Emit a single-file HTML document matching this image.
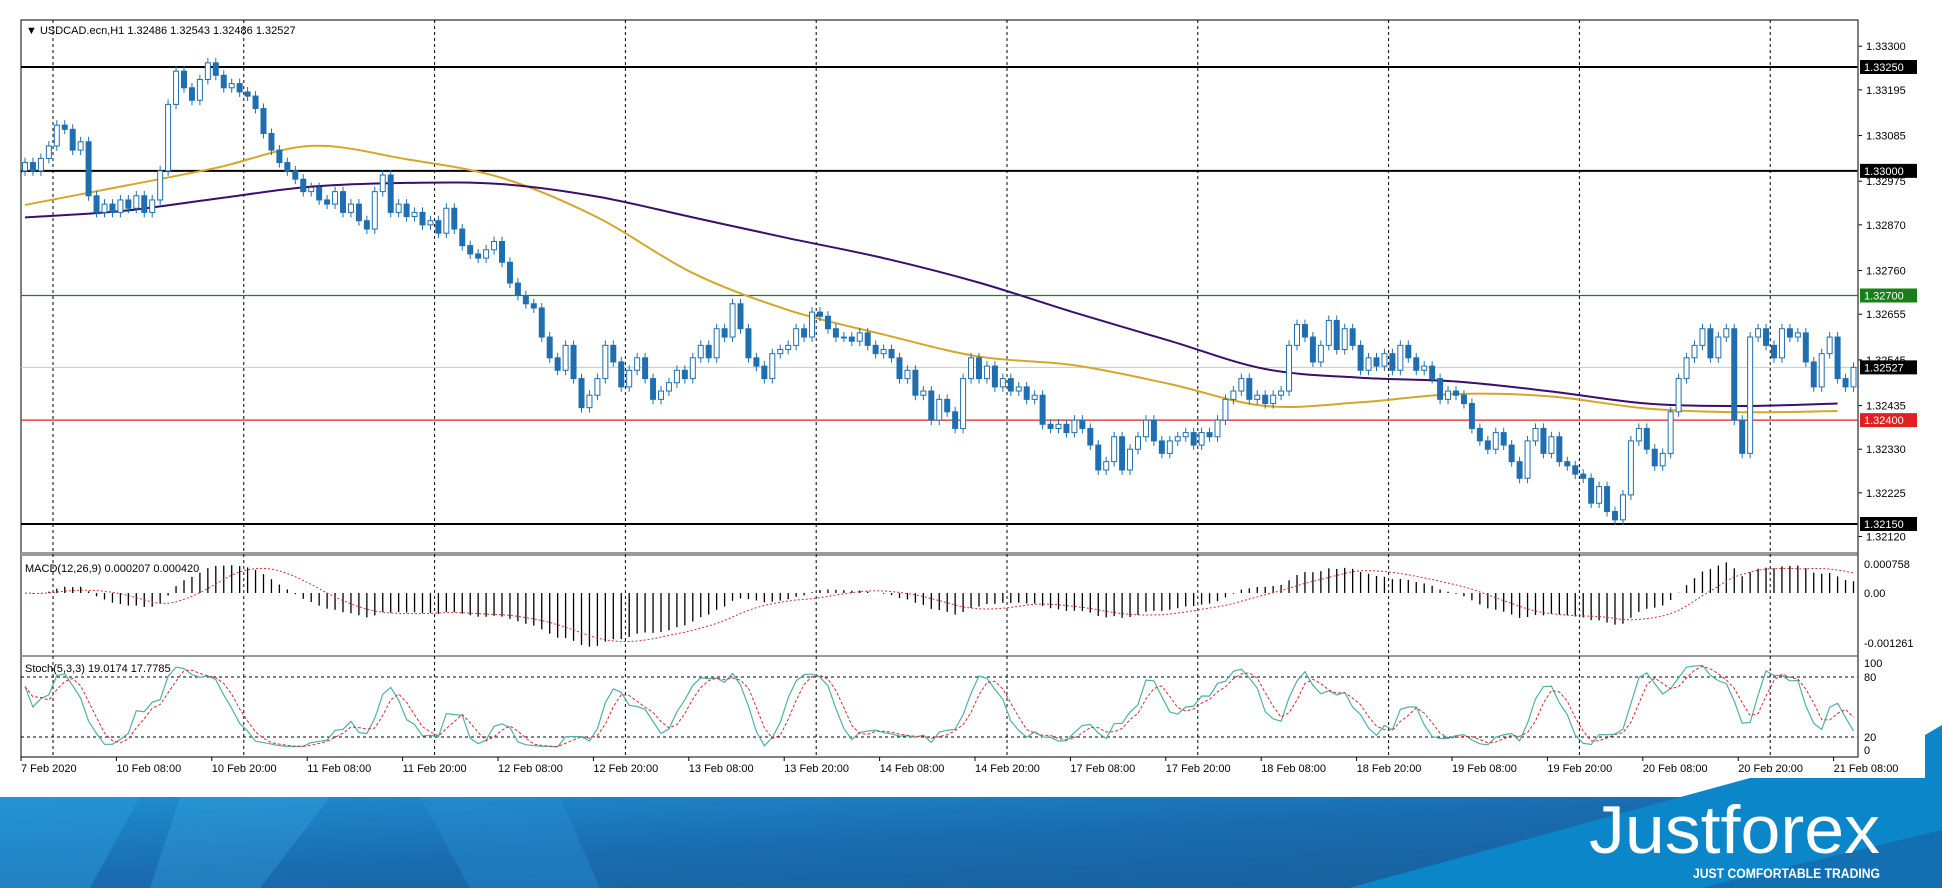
<!DOCTYPE html>
<html><head><meta charset="utf-8">
<style>
html,body{margin:0;padding:0;background:#fff;}
svg{display:block;font-family:"Liberation Sans",sans-serif;}
</style></head>
<body>
<svg id="chart" width="1942" height="888" viewBox="0 0 1942 888" xmlns="http://www.w3.org/2000/svg">
<defs>
<linearGradient id="bannerGrad" x1="0" y1="0" x2="1" y2="1">
<stop offset="0" stop-color="#1e8fd0"/><stop offset="0.45" stop-color="#1a6db0"/><stop offset="1" stop-color="#165c98"/>
</linearGradient>
</defs>
<g id="banner">
<rect x="0" y="797" width="1942" height="91" fill="url(#bannerGrad)"/>
<polygon points="0,797 140,797 90,888 0,888" fill="#2a9ad8" opacity="0.5"/>
<polygon points="180,797 330,797 260,888 150,888" fill="#38a6e0" opacity="0.35"/>
<polygon points="420,797 560,797 600,888 470,888" fill="#2a94d6" opacity="0.35"/>
<polygon points="1349,888 1750,778 1925,778 1925,735 1942,725 1942,888" fill="#0b86c9"/>
<polygon points="1700,888 1942,830 1942,888" fill="#1567a8" opacity="0.7"/>
<text x="1589" y="853" fill="#fff" font-family="'Liberation Sans Narrow','Liberation Sans',sans-serif" font-size="68" textLength="291" lengthAdjust="spacingAndGlyphs">Justforex</text>
<text x="1693" y="878" fill="#fff" font-family="'Liberation Sans Narrow','Liberation Sans',sans-serif" font-weight="bold" font-size="14" textLength="187" lengthAdjust="spacingAndGlyphs">JUST COMFORTABLE TRADING</text>
</g>
<g id="frame"></g>
<g id="grid"></g>
<g id="hlines"></g>
<g id="ma"></g>
<g id="candles"></g>
<g id="macd"></g>
<g id="stoch"></g>
<g id="axes"></g>
</svg>
<script>
const closes = [
1.3302,1.3300,1.3303,1.3306,1.3311,1.3310,1.3305,1.3307,1.3294,1.3290,1.3292,1.3290,
1.3293,1.3291,1.3294,1.3290,1.3293,1.3300,1.3316,1.3324,1.3320,1.3317,1.3322,1.3326,
1.3323,1.3320,1.3321,1.3319,1.3318,1.3315,1.3309,1.3305,1.3302,1.3300,1.3298,1.3295,
1.3296,1.3293,1.3292,1.3295,1.3290,1.3292,1.3288,1.3286,1.3295,1.3299,1.3290,1.3292,
1.3289,1.3290,1.3287,1.3288,1.3285,1.3291,1.3286,1.3282,1.3280,1.3279,1.3281,1.3283,
1.3278,1.3273,1.3270,1.3268,1.3267,1.3260,1.3255,1.3252,1.3258,1.3250,1.3243,1.3246,
1.3250,1.3258,1.3254,1.3248,1.3252,1.3255,1.3250,1.3245,1.3247,1.3249,1.3252,1.3250,
1.3255,1.3258,1.3255,1.3262,1.3260,1.3268,1.3262,1.3255,1.3253,1.3250,1.3256,1.3257,
1.3258,1.3262,1.3260,1.3266,1.3265,1.3262,1.3260,1.3260,1.3259,1.3261,1.3258,1.3256,
1.3257,1.3255,1.3250,1.3252,1.3246,1.3247,1.3240,1.3245,1.3242,1.3238,1.3250,1.3255,
1.3250,1.3253,1.3248,1.3250,1.3247,1.3248,1.3245,1.3246,1.3239,1.3238,1.3239,1.3237,
1.3240,1.3238,1.3234,1.3228,1.3230,1.3236,1.3228,1.3233,1.3236,1.3240,1.3235,1.3232,
1.3235,1.3236,1.3237,1.3234,1.3237,1.3236,1.3240,1.3245,1.3247,1.3250,1.3245,1.3246,
1.3244,1.3246,1.3247,1.3258,1.3263,1.3260,1.3254,1.3258,1.3264,1.3257,1.3262,1.3258,
1.3252,1.3255,1.3253,1.3256,1.3252,1.3258,1.3255,1.3252,1.3253,1.3250,1.3245,1.3247,
1.3246,1.3244,1.3238,1.3235,1.3233,1.3237,1.3234,1.3230,1.3226,1.3235,1.3238,1.3232,
1.3236,1.3230,1.3229,1.3227,1.3226,1.3220,1.3224,1.3218,1.3216,1.3222,1.3235,1.3238,
1.3233,1.3229,1.3232,1.3242,1.3250,1.3255,1.3258,1.3262,1.3255,1.3260,1.3262,1.3240,
1.3232,1.3260,1.3262,1.3258,1.3255,1.3262,1.3260,1.3261,1.3254,1.3248,1.3256,1.3260,
1.3250,1.3248,1.32527];
const firstOpen = 1.3300;
const maFast = [1.32918,1.32962,1.33007,1.33060,1.33028,1.32983,1.32888,1.32754,1.32665,1.32606,1.32553,1.32532,1.32487,1.32434,1.32443,1.32463,1.32457,1.32428,1.32419,1.32422];
const maSlow = [1.32888,1.32903,1.32933,1.32962,1.32971,1.32968,1.32938,1.32888,1.32838,1.32790,1.32731,1.32659,1.32591,1.32523,1.32502,1.32493,1.32469,1.32440,1.32434,1.32440];
const maStep = 12;
const levelPrices = [1.3325,1.3300,1.3270,1.3240,1.3215];
const levelColors = ["#000","#000","#1a7f1a","#e02020","#000"];
const priceTicks = [1.33300,1.33195,1.33085,1.32975,1.32870,1.32760,1.32655,1.32545,1.32435,1.32330,1.32225,1.32120];
const timeLabels = ["7 Feb 2020","10 Feb 08:00","10 Feb 20:00","11 Feb 08:00","11 Feb 20:00","12 Feb 08:00","12 Feb 20:00","13 Feb 08:00","13 Feb 20:00","14 Feb 08:00","14 Feb 20:00","17 Feb 08:00","17 Feb 20:00","18 Feb 08:00","18 Feb 20:00","19 Feb 08:00","19 Feb 20:00","20 Feb 08:00","20 Feb 20:00","21 Feb 08:00"];
const lastPrice = 1.32527;
const wick = 0.00012;

const NS="http://www.w3.org/2000/svg";
const L=21,R=1858,TOP=20,MAINB=552;
const x0=25,step=7.95;
function xBar(i){return x0+i*step;}
function yP(p){return 67+(1.3325-p)*41545;}
function yM(v){return 593-v*46000;}
function yS(v){return 757-v;}
function mk(tag,attrs,parent){const e=document.createElementNS(NS,tag);for(const k in attrs)e.setAttribute(k,attrs[k]);parent.appendChild(e);return e;}
const g=id=>document.getElementById(id);

const fr=g('frame');
let e;
e=mk('rect',{x:L,y:TOP,width:R-L,height:737,fill:'none',stroke:'#000','stroke-width':1},fr);


[[552,556],[655,657]].forEach(s=>{
 e=mk('rect',{x:L,y:s[0],width:R-L,height:s[1]-s[0],fill:'#9a9a9a'},fr);
 
 
});
e=mk('text',{x:26,y:34,'font-size':11,fill:'#000'},fr);e.textContent='▼ USDCAD.ecn,H1  1.32486 1.32543 1.32486 1.32527';


e=mk('text',{x:25,y:572,'font-size':11,fill:'#000'},fr);e.textContent='MACD(12,26,9) 0.000207 0.000420';


e=mk('text',{x:25,y:672,'font-size':11,fill:'#000'},fr);e.textContent='Stoch(5,3,3) 19.0174 17.7785';



const gr=g('grid');
for(let k=0;k<10;k++){
 const x=53+k*190.8;
 e=mk('line',{x1:x,y1:TOP,x2:x,y2:757,stroke:'#000','stroke-width':1,'stroke-dasharray':'3,3'},gr);
 
 
}
[80,20].forEach(v=>{
 e=mk('line',{x1:L,y1:yS(v),x2:R,y2:yS(v),stroke:'#000','stroke-dasharray':'3,3'},gr);
 
 
});

const hl=g('hlines');
e=mk('line',{x1:L,y1:yP(lastPrice),x2:R,y2:yP(lastPrice),stroke:'#c8c8c8'},hl);


levelPrices.forEach((p,i)=>{
 e=mk('line',{x1:L,y1:yP(p),x2:R,y2:yP(p),stroke:levelColors[i],'stroke-width':i===2||i===3?1.3:2},hl);
 
 
});

const ma=g('ma');
function smoothPath(arr){
 const pts=arr.map((v,i)=>[xBar(Math.min(i*maStep,closes.length-1)),yP(v)]);
 let d='M'+pts[0][0]+','+pts[0][1];
 for(let i=0;i<pts.length-1;i++){
  const p0=pts[Math.max(0,i-1)],p1=pts[i],p2=pts[i+1],p3=pts[Math.min(pts.length-1,i+2)];
  const c1=[p1[0]+(p2[0]-p0[0])/6,p1[1]+(p2[1]-p0[1])/6];
  const c2=[p2[0]-(p3[0]-p1[0])/6,p2[1]-(p3[1]-p1[1])/6];
  d+=' C'+c1[0]+','+c1[1]+' '+c2[0]+','+c2[1]+' '+p2[0]+','+p2[1];
 }
 return d;
}
function maLine(arr,color,name){
 const p=mk('path',{d:smoothPath(arr),fill:'none',stroke:color,'stroke-width':2},ma);
 
 
}
maLine(maFast,'#d4a62a','ma-fast-line');
maLine(maSlow,'#3a0e6a','ma-slow-line');

const cg=g('candles');
const opens=[],highs=[],lows=[];
closes.forEach((c,i)=>{
 const o=i===0?firstOpen:closes[i-1];
 opens.push(o);highs.push(Math.max(o,c)+wick);lows.push(Math.min(o,c)-wick);
 const x=xBar(i);const up=c>=o;
 const col='#1f6fb0';
 e=mk('line',{x1:x,y1:yP(highs[i]),x2:x,y2:yP(lows[i]),stroke:col,'stroke-width':1},cg);
 
 
 const yt=yP(Math.max(o,c)),yb=yP(Math.min(o,c));
 e=mk('rect',{x:x-2.5,y:yt,width:5,height:Math.max(1,yb-yt),fill:up?'#fff':col,stroke:col,'stroke-width':1},cg);
 
 
});

function ema(arr,n){const k=2/(n+1);const out=[];arr.forEach((v,i)=>out.push(i===0?v:v*k+out[i-1]*(1-k)));return out;}
function sma(arr,n){return arr.map((v,i)=>{const s=arr.slice(Math.max(0,i-n+1),i+1);return s.reduce((a,b)=>a+b,0)/s.length;});}
const e12=ema(closes,12),e26=ema(closes,26);
const macdV=closes.map((c,i)=>e12[i]-e26[i]);
const sig=sma(macdV,9);
const mg=g('macd');
macdV.forEach((v,i)=>{
 e=mk('line',{x1:xBar(i),y1:yM(0),x2:xBar(i),y2:yM(v),stroke:'#000','stroke-width':1.3},mg);
 
 
});
e=mk('polyline',{points:sig.map((v,i)=>xBar(i)+','+yM(v)).join(' '),fill:'none',stroke:'#d03030','stroke-width':1,'stroke-dasharray':'2,2'},mg);



const raw=closes.map((c,i)=>{const hh=Math.max(...highs.slice(Math.max(0,i-4),i+1));const ll=Math.min(...lows.slice(Math.max(0,i-4),i+1));return hh===ll?50:100*(c-ll)/(hh-ll);});
const kLine=sma(raw,3),dLine=sma(kLine,3);
const sg=g('stoch');
e=mk('polyline',{points:kLine.map((v,i)=>xBar(i)+','+yS(v*0.9+5)).join(' '),fill:'none',stroke:'#4fb0a8','stroke-width':1.2},sg);


e=mk('polyline',{points:dLine.map((v,i)=>xBar(i)+','+yS(v*0.9+5)).join(' '),fill:'none',stroke:'#d03030','stroke-width':1,'stroke-dasharray':'3,2'},sg);



const ax=g('axes');
priceTicks.forEach(p=>{
 const y=yP(p);
 mk('line',{x1:R,y1:y,x2:R+4,y2:y,stroke:'#000'},ax);
 e=mk('text',{x:R+8,y:y+4,'font-size':11,fill:'#000'},ax);e.textContent=p.toFixed(5);
 
 
});
function box(p,color,name){
 const y=yP(p);
 e=mk('rect',{x:R+2,y:y-7,width:57,height:14,fill:color},ax);
 
 
 e=mk('text',{x:R+6,y:y+4,'font-size':11,fill:'#fff'},ax);e.textContent=p.toFixed(5);
 
 
}
levelPrices.forEach((p,i)=>box(p,levelColors[i]==='#000'?'#000':levelColors[i],'level'));
box(lastPrice,'#000','last-price');
[[0.000758,'0.000758'],[0,'0.00'],[-0.001261,'-0.001261']].forEach(t=>{
 const yy=t[0]<0?647:(t[0]>0?568:597);
 e=mk('text',{x:R+6,y:yy,'font-size':11,fill:'#000'},ax);e.textContent=t[1];
 
 
});
[[100,667],[80,681],[20,741],[0,754]].forEach(t=>{
 e=mk('text',{x:R+6,y:t[1],'font-size':11,fill:'#000'},ax);e.textContent=String(t[0]);
 
 
});
mk('line',{x1:R,y1:TOP,x2:R,y2:757,stroke:'#555','stroke-width':1.5},ax);
timeLabels.forEach((t,k)=>{
 const x=21+k*95.4;
 mk('line',{x1:x,y1:757,x2:x,y2:761,stroke:'#000'},ax);
 e=mk('text',{x:x,y:772,'font-size':11,fill:'#000'},ax);e.textContent=t;
 
 
});
</script>
</body></html>
